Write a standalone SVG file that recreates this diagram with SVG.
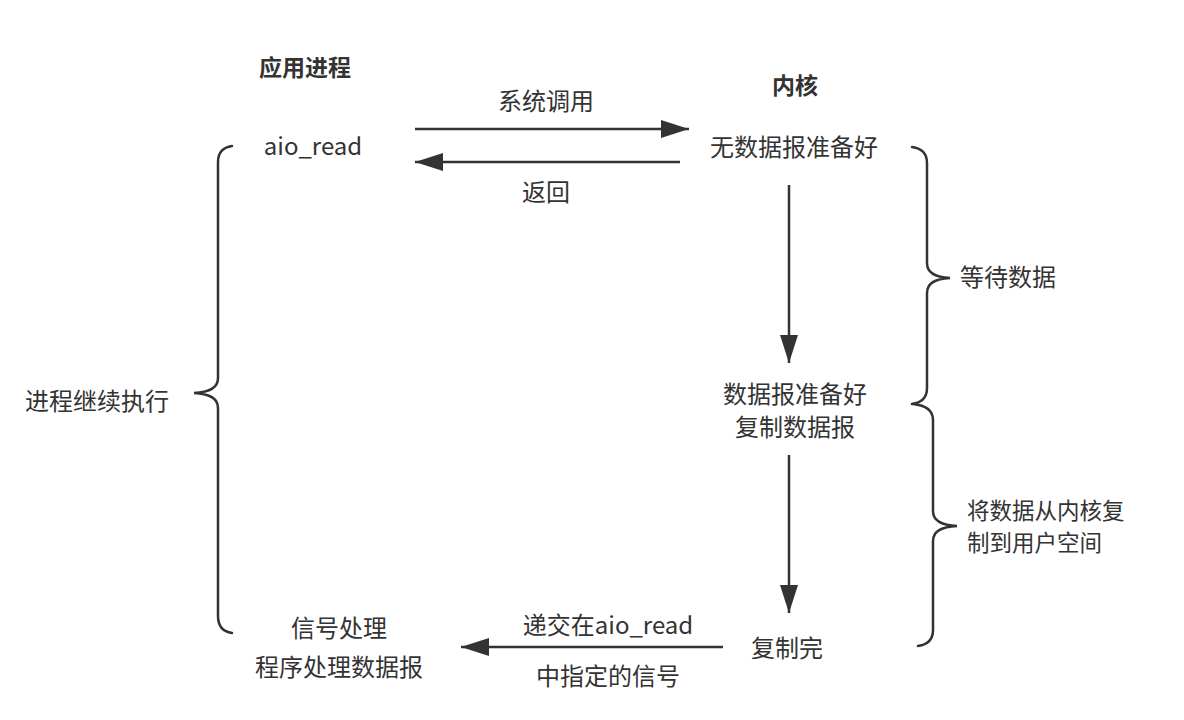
<svg xmlns="http://www.w3.org/2000/svg" width="1184" height="720" viewBox="0 0 1184 720">
<defs>
<style>
text{font-family:"Noto Sans CJK SC","Liberation Sans",sans-serif;font-size:24px;fill:#333;text-anchor:middle}
.b{font-weight:bold;font-size:23px}
.l{text-anchor:start}
.s{font-size:22.5px}
.c{stroke:#333;stroke-width:2.5;fill:none}
.br{stroke:#333;stroke-width:2.5;fill:none;stroke-linecap:round}
</style>
<marker id="a" viewBox="0 0 28 18" refX="28" refY="9" markerWidth="28" markerHeight="18" markerUnits="userSpaceOnUse" orient="auto">
<path d="M0,0 L28,9 L0,18 Z" fill="#333"/>
</marker>
</defs>
<rect width="1184" height="720" fill="#fff"/>
<g id="headers">
<text class="b" x="305" y="76">应用进程</text>
<text class="b" x="795" y="94">内核</text>
</g>
<g id="node-aio-read"><text x="313" y="155">aio_read</text></g>
<g id="node-no-data"><text x="794" y="156">无数据报准备好</text></g>
<g id="node-data-ready"><text x="795" y="403">数据报准备好</text><text x="795" y="436">复制数据报</text></g>
<g id="node-copy-done"><text x="787" y="657">复制完</text></g>
<g id="node-signal"><text x="339" y="637">信号处理</text><text x="339" y="676">程序处理数据报</text></g>
<g id="connectors">
<line class="c" x1="415" y1="129" x2="689" y2="129" marker-end="url(#a)"/>
<line class="c" x1="680" y1="162" x2="415" y2="162" marker-end="url(#a)"/>
<line class="c" x1="789" y1="185" x2="789" y2="363" marker-end="url(#a)"/>
<line class="c" x1="789" y1="455" x2="789" y2="613" marker-end="url(#a)"/>
<line class="c" x1="723" y1="647" x2="461" y2="647" marker-end="url(#a)"/>
</g>
<g id="connector-labels">
<text x="546" y="110">系统调用</text>
<text x="546" y="201">返回</text>
<text x="608" y="634">递交在aio_read</text>
<text x="608" y="685">中指定的信号</text>
</g>
<g id="brace-left">
<path class="br" d="M232,146 Q218,148 218,162 L218,378 Q218,392 194,393 Q218,394 218,408 L218,616 Q218,631 232,633"/>
<text x="97" y="410">进程继续执行</text>
</g>
<g id="brace-wait">
<path class="br" d="M912,147 Q927,149 927,163 L927,263 Q927,277 950,278 Q927,279 927,293 L927,388 Q927,402 912,404"/>
<text class="l" x="960" y="286">等待数据</text>
</g>
<g id="brace-copy">
<path class="br" d="M913,404 Q933,406 933,420 L933,511 Q933,525 957,526 Q933,527 933,541 L933,630 Q933,644 918,646"/>
<text class="l s" x="967" y="519">将数据从内核复</text>
<text class="l s" x="967" y="551">制到用户空间</text>
</g>
</svg>
